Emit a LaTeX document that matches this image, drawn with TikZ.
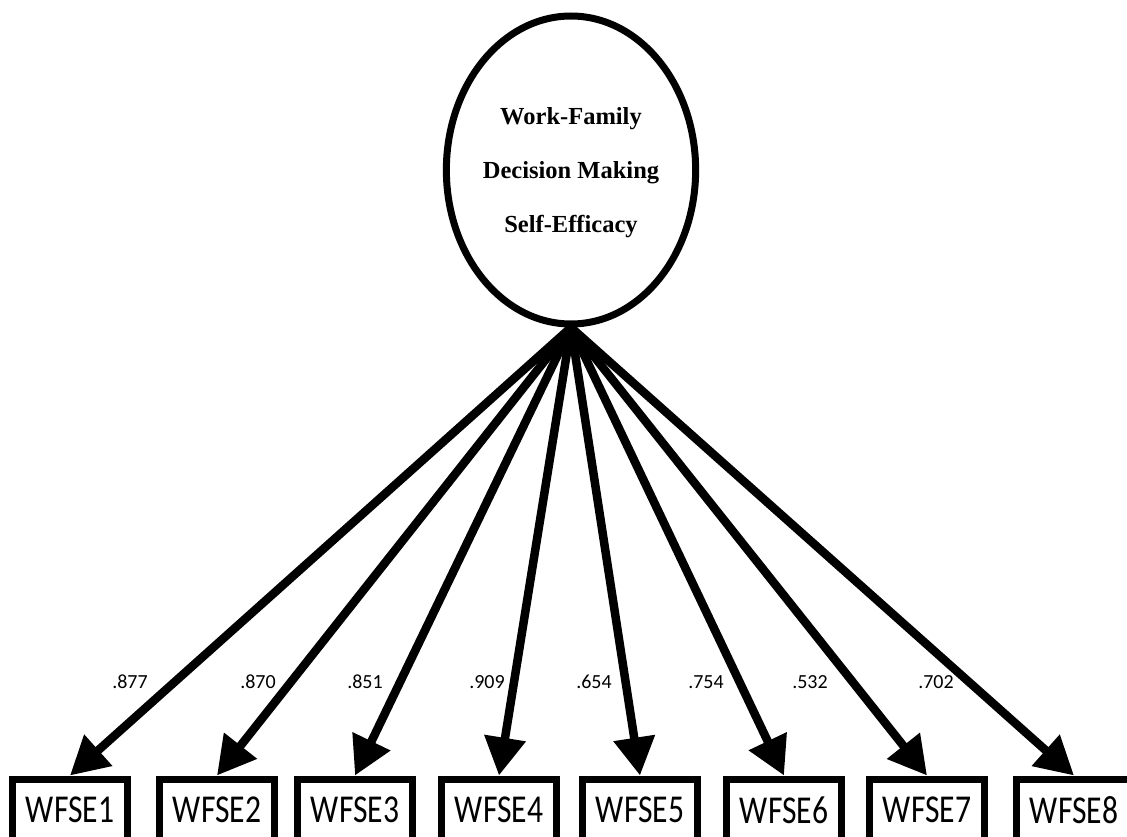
\documentclass[tikz,border=0pt]{standalone}
\usepackage{fontspec}
\newfontfamily\calibrifont{Carlito}
\newfontfamily\boxfont[FakeStretch=0.8]{Carlito}
\newfontfamily\latentfont{Liberation Serif}
\usetikzlibrary{arrows.meta,shapes.geometric}

\begin{document}
\begin{tikzpicture}[x=1pt,y=-1pt]
  \tikzset{
    latent/.style={draw, ellipse, line width=7pt, minimum width=248pt, minimum height=308pt, inner sep=0pt, align=center, text depth=-5pt, font=\latentfont\bfseries\fontsize{24.5}{54}\selectfont},
    indicator/.style={draw, rectangle, fill=white, line width=7pt, minimum width=115pt, minimum height=62pt, inner sep=0pt, font=\boxfont\fontsize{39.5}{40}\selectfont},
    loading/.style={font=\calibrifont\fontsize{20}{24}\selectfont, anchor=base},
    loadarrow/.style={line width=8.5pt, -{Triangle[length=38pt,width=40pt]}}
  }
  \useasboundingbox (0,0) rectangle (1127,837);
  \node[latent] (lv) at (571,170) {Work-Family\\Decision Making\\Self-Efficacy};
  \foreach \i/\x in {1/70,2/217,3/355,4/499,5/640,6/784,7/927,8/1074}
    \node[indicator] (w\i) at (\x,810) {WFSE\i};
  % Draw the loadings
  \foreach \i in {1,...,8}
    \draw[loadarrow] (lv.south) -- (w\i.north);
  \foreach \i/\x/\v in {1/130/.877,2/258/.870,3/365/.851,4/487/.909,5/594/.654,6/706/.754,7/810/.532,8/936/.702}
    \node[loading] (l\i) at (\x,688) {\v};
\end{tikzpicture}
\end{document}
